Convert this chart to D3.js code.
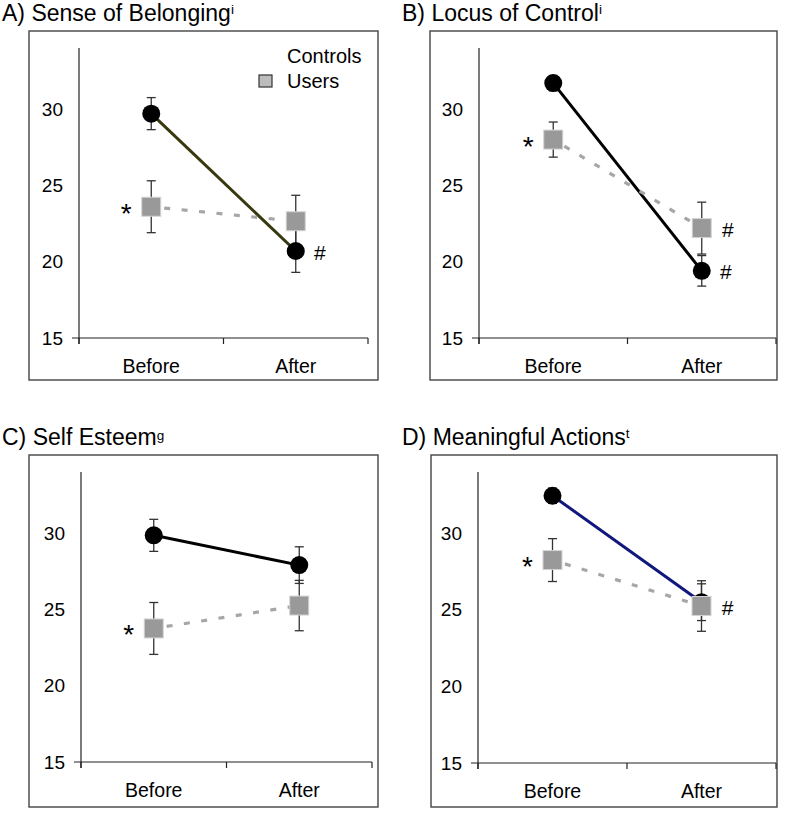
<!DOCTYPE html>
<html><head><meta charset="utf-8">
<script src="https://d3js.org/d3.v7.min.js"></script>
<style>body{margin:0;background:#fff}svg{display:block;font-family:"Liberation Sans",Arial,sans-serif}</style>
</head><body><svg id="c" width="787" height="813"></svg>
<script>
// ---- data ----
const categories = ["Before", "After"];
const yTicks = [15, 20, 25, 30];
const panelTitles = ["A) Sense of Belonging", "B) Locus of Control", "C) Self Esteem", "D) Meaningful Actions"];
const titleSups = ["i", "i", "g", "t"];
const controlsMeans = [[29.7, 20.7], [31.7, 19.4], [29.85, 27.9], [32.45, 25.5]];
const controlsErr   = [[1.05, 1.4], [0.5, 1.0], [1.05, 1.2], [0.5, 1.2]];
const usersMeans    = [[23.6, 22.65], [28.0, 22.2], [23.75, 25.25], [28.25, 25.25]];
const usersErr      = [[1.7, 1.7], [1.15, 1.7], [1.7, 1.65], [1.4, 1.65]];
const starMarks = [["Before"], ["Before"], ["Before"], ["Before"]];      // '*' beside Users
const hashControls = [["After"], ["After"], [], []];                  // '#' beside Controls
const hashUsers = [[], ["After"], [], ["After"]];                      // '#' beside Users
const legendLabels = ["Controls", "Users"];

// ---- layout ----
const layout = [
  {tx: 2,   ty: 21,  fx: 29,  fy: 31,  fw: 349, fh: 349, ax: 79,  ay0: 48,  ay1: 338, axr: 368, line: "#38380f"},
  {tx: 402, ty: 21,  fx: 430, fy: 31,  fw: 347, fh: 349, ax: 479, ay0: 48,  ay1: 338, axr: 776, line: "#000"},
  {tx: 2,   ty: 445, fx: 29,  fy: 455, fw: 349, fh: 352, ax: 81,  ay0: 472, ay1: 762, axr: 372, line: "#000"},
  {tx: 402, ty: 445, fx: 431, fy: 455, fw: 346, fh: 352, ax: 478, ay0: 472, ay1: 763, axr: 776, line: "#10187e"}
];
const svg = d3.select("#c");

layout.forEach((L, p) => {
  const g = svg.append("g");
  // title
  const t = g.append("text").attr("x", L.tx).attr("y", L.ty)
    .attr("font-size", 23).attr("fill", "#000").text(panelTitles[p]);
  t.append("tspan").attr("font-size", 13.5).attr("dy", titleSups[p] === "g" ? -5 : -7).text(titleSups[p]);
  // frame
  g.append("rect").attr("x", L.fx).attr("y", L.fy).attr("width", L.fw).attr("height", L.fh)
    .attr("fill", "none").attr("stroke", "#444").attr("stroke-width", 1.4);

  const y = d3.scaleLinear().domain([15, 34]).range([L.ay1, L.ay0]);
  const x = d3.scaleBand().domain(categories).range([L.ax, L.axr]).padding(0);
  const cx = c => x(c) + x.bandwidth() / 2;

  // y axis
  const yAxis = g.append("g").attr("transform", `translate(${L.ax},0)`)
    .call(d3.axisLeft(y).tickValues(yTicks).tickSize(0).tickPadding(16));
  yAxis.select(".domain").remove();
  yAxis.selectAll("text").attr("font-size", 19).attr("fill", "#000")
    .attr("font-family", '"Liberation Sans",Arial,sans-serif');
  g.append("line").attr("x1", L.ax).attr("x2", L.ax).attr("y1", L.ay0).attr("y2", L.ay1 + 6)
    .attr("stroke", "#222").attr("stroke-width", 1.2);
  // x axis
  g.append("line").attr("x1", L.ax - 7).attr("x2", L.axr).attr("y1", L.ay1).attr("y2", L.ay1)
    .attr("stroke", "#222").attr("stroke-width", 1.2);
  const bounds = categories.map(c => x(c)).concat([x(categories[1]) + x.bandwidth()]);
  g.selectAll(".xt").data(bounds).join("line")
    .attr("x1", d => d).attr("x2", d => d).attr("y1", L.ay1).attr("y2", L.ay1 + 6)
    .attr("stroke", "#222").attr("stroke-width", 1.2);
  g.selectAll(".xl").data(categories).join("text")
    .attr("x", d => cx(d)).attr("y", L.ay1 + 35).attr("text-anchor", "middle")
    .attr("font-size", 19.5).text(d => d);

  const ctl = categories.map((c, i) => ({c, v: controlsMeans[p][i], e: controlsErr[p][i]}));
  const usr = categories.map((c, i) => ({c, v: usersMeans[p][i], e: usersErr[p][i]}));

  // error bars
  const drawErr = data => {
    data.forEach(d => {
      const xx = cx(d.c), y0 = y(d.v - d.e), y1 = y(d.v + d.e);
      g.append("line").attr("x1", xx).attr("x2", xx).attr("y1", y0).attr("y2", y1)
        .attr("stroke", "#333").attr("stroke-width", 1.3);
      [y0, y1].forEach(yy => g.append("line").attr("x1", xx - 4.5).attr("x2", xx + 4.5)
        .attr("y1", yy).attr("y2", yy).attr("stroke", "#333").attr("stroke-width", 1.3));
    });
  };
  drawErr(ctl); drawErr(usr);

  const lineGen = d3.line().x(d => cx(d.c)).y(d => y(d.v));
  g.append("path").attr("d", lineGen(ctl)).attr("fill", "none")
    .attr("stroke", L.line).attr("stroke-width", 3);
  g.append("path").attr("d", lineGen(usr)).attr("fill", "none")
    .attr("stroke", "#a6a6a6").attr("stroke-width", 3.2).attr("stroke-dasharray", "6,11.5")
    .attr("stroke-dashoffset", -13);

  g.selectAll(".cm").data(ctl).join("circle")
    .attr("cx", d => cx(d.c)).attr("cy", d => y(d.v)).attr("r", 9).attr("fill", "#000");
  g.selectAll(".um").data(usr).join("rect")
    .attr("x", d => cx(d.c) - 9.5).attr("y", d => y(d.v) - 9.5).attr("width", 19).attr("height", 19)
    .attr("fill", "#999").attr("stroke", "#d4d4d4").attr("stroke-width", 1);

  // significance marks
  starMarks[p].forEach(c => {
    const d = usr.find(u => u.c === c);
    g.append("text").attr("x", cx(c) - 25).attr("y", y(d.v) + 16).attr("text-anchor", "middle")
      .attr("font-size", 28).text("*");
  });
  hashControls[p].forEach(c => {
    const d = ctl.find(u => u.c === c);
    g.append("text").attr("x", cx(c) + 24).attr("y", y(d.v) + 8.5).attr("text-anchor", "middle")
      .attr("font-size", 21).text("#");
  });
  hashUsers[p].forEach(c => {
    const d = usr.find(u => u.c === c);
    g.append("text").attr("x", cx(c) + 26).attr("y", y(d.v) + 8.5).attr("text-anchor", "middle")
      .attr("font-size", 21).text("#");
  });

  // legend (panel A only)
  if (p === 0) {
    g.append("text").attr("x", 287).attr("y", 63).attr("font-size", 20).text(legendLabels[0]);
    g.append("text").attr("x", 287).attr("y", 88).attr("font-size", 20).text(legendLabels[1]);
    g.append("rect").attr("x", 259).attr("y", 75).attr("width", 13).attr("height", 12)
      .attr("fill", "#bdbdbd").attr("stroke", "#333").attr("stroke-width", 1.2);
  }
});
</script></body></html>
